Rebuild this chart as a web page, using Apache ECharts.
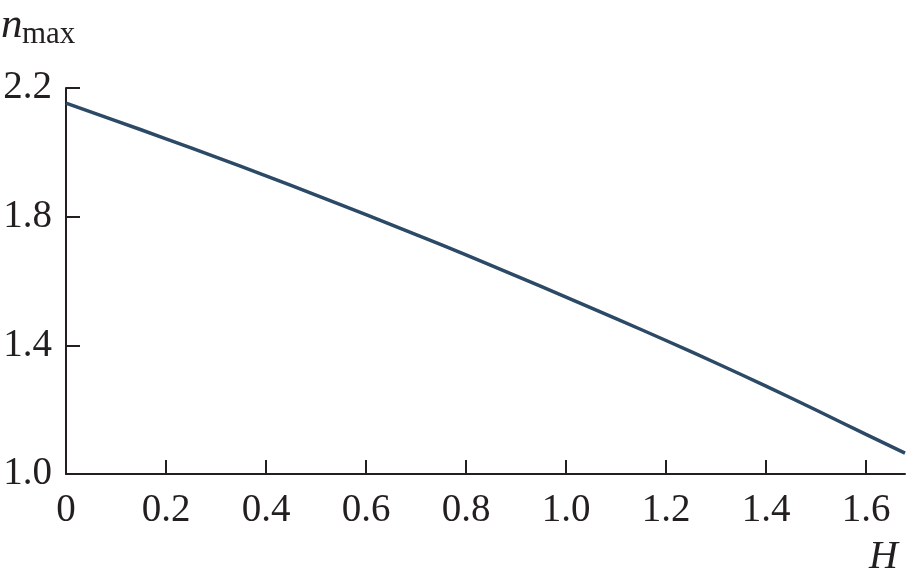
<!DOCTYPE html>
<html>
<head>
<meta charset="utf-8">
<script src="https://cdn.jsdelivr.net/npm/echarts@6/dist/echarts.min.js"></script>
<style>html,body{margin:0;padding:0;background:#fff}#c{width:910px;height:583px}</style>
</head>
<body>
<div id="c"></div>
<script>
const hValues = [0, 0.1, 0.2, 0.3, 0.4, 0.5, 0.6, 0.7, 0.8, 0.9, 1.0, 1.1, 1.2, 1.3, 1.4, 1.5, 1.6, 1.678];
const nMaxValues = [2.153, 2.098, 2.042, 1.985, 1.927, 1.867, 1.806, 1.744, 1.681, 1.616, 1.550, 1.483, 1.415, 1.345, 1.273, 1.199, 1.123, 1.065];
const xTicks = [0, 0.2, 0.4, 0.6, 0.8, 1.0, 1.2, 1.4, 1.6];
const yTicks = [1.0, 1.4, 1.8, 2.2];

const font = '"Liberation Serif", "Times New Roman", serif';
const axisColor = '#231f20';
const chart = echarts.init(document.getElementById('c'));
chart.setOption({
  animation: false,
  grid: { left: 66, right: 5, top: 88, bottom: 109, containLabel: false, outerBoundsMode: 'none' },
  xAxis: {
    type: 'value', min: 0, max: 1.678,
    axisLine: { show: true, lineStyle: { color: axisColor, width: 2 } },
    axisTick: { show: true, inside: true, length: 14, lineStyle: { color: axisColor, width: 2 }, customValues: xTicks },
    axisLabel: { customValues: xTicks, color: axisColor, fontFamily: font, fontSize: 39, margin: 17,
      formatter: v => v === 0 ? '0' : v.toFixed(1) },
    splitLine: { show: false }
  },
  yAxis: {
    type: 'value', min: 1.0, max: 2.2,
    axisLine: { show: true, lineStyle: { color: axisColor, width: 2 } },
    axisTick: { show: true, inside: true, length: 14, lineStyle: { color: axisColor, width: 2 }, customValues: yTicks },
    axisLabel: { customValues: yTicks, color: axisColor, fontFamily: font, fontSize: 39, margin: 14,
      formatter: v => v.toFixed(1) },
    splitLine: { show: false }
  },
  graphic: [
    { type: 'text', left: 1, top: 4, style: { text: 'n', font: 'italic 43px ' + font, fill: axisColor } },
    { type: 'text', left: 22, top: 19, style: { text: 'max', font: '31px ' + font, fill: axisColor } },
    { type: 'text', left: 869, top: 537, style: { text: 'H', font: 'italic 40px ' + font, fill: axisColor } }
  ],
  series: [{
    type: 'line', smooth: true, showSymbol: false,
    data: hValues.map((h, i) => [h, nMaxValues[i]]),
    lineStyle: { color: '#2c4a66', width: 3.5 }
  }]
});
</script>
</body>
</html>
